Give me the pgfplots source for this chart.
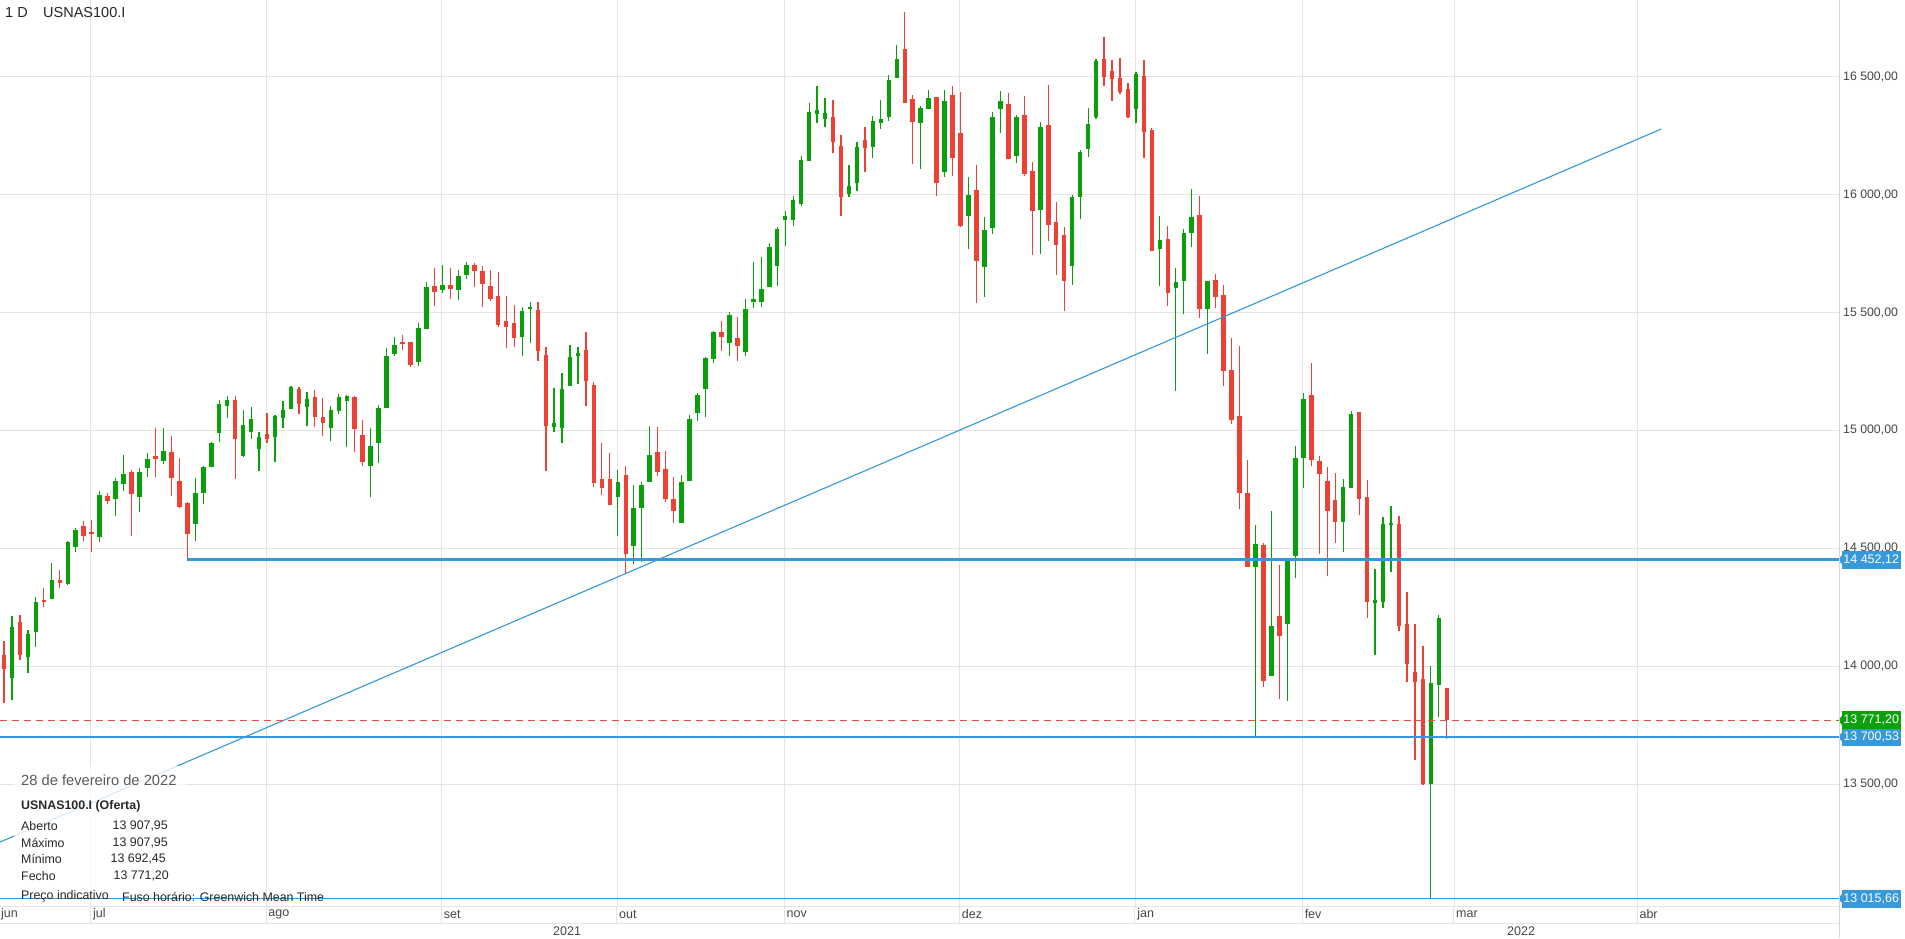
\documentclass[border=0pt]{standalone}
\usepackage{pgfplots}
\pgfplotsset{compat=1.18}
\usepackage{pgfplotstable}
\usepackage{fontspec}
\setmainfont{Liberation Sans}

\definecolor{candlegreen}{RGB}{10,160,12}
\definecolor{candlered}{RGB}{238,65,54}
\definecolor{lineblue}{RGB}{52,152,219}
\definecolor{tagblue}{RGB}{54,153,220}
\definecolor{taggreen}{RGB}{12,160,12}
\definecolor{linered}{RGB}{232,80,70}
\definecolor{gridgray}{RGB}{228,228,228}
\definecolor{axisgray}{RGB}{215,215,215}
\definecolor{textdark}{RGB}{40,40,40}
\definecolor{textgray}{RGB}{70,70,70}
\definecolor{datagray}{RGB}{90,90,90}

\newcommand{\fs}[1]{\fontsize{#1pt}{#1pt}\selectfont}

% daily candles, x = trading day (1 = 16 Jun 2021 ... 182 = 28 Feb 2022)
\pgfplotstableread{
x o h l c
2 13949 14214 13857 14165
4 14038 14154 13973 14137
5 14144 14295 14081 14271
7 14284 14437 14284 14366
9 14349 14531 14346 14526
10 14507 14585 14483 14578
13 14547 14743 14526 14726
15 14708 14800 14637 14786
16 14772 14896 14743 14815
18 14719 14842 14653 14823
19 14839 14903 14801 14879
21 14872 15009 14856 14913
25 14602 14797 14531 14734
26 14734 14851 14687 14844
27 14844 14950 14844 14946
28 14988 15129 14950 15112
29 15105 15146 15052 15129
31 14892 15087 14886 15023
32 14992 15098 14962 15049
33 14920 14992 14828 14971
35 14971 15066 14865 15061
36 15052 15125 15012 15087
37 15090 15189 15090 15183
39 15098 15162 15019 15134
42 15009 15104 14956 15087
43 15084 15155 15068 15141
44 15126 15150 14929 15148
47 14851 15009 14717 14934
48 14946 15108 14861 15094
49 15094 15348 15094 15316
50 15324 15395 15316 15362
53 15289 15454 15273 15433
54 15430 15628 15430 15607
56 15596 15702 15584 15617
58 15596 15680 15553 15655
59 15659 15713 15642 15702
66 15395 15522 15316 15507
67 15514 15543 15372 15522
70 15013 15179 14992 15033
71 15009 15242 14946 15176
72 15190 15362 15190 15310
73 15317 15353 15196 15330
78 14717 14832 14553 14783
80 14512 14769 14433 14673
81 14673 14783 14441 14769
82 14780 15019 14780 14896
86 14606 14811 14606 14780
87 14787 15066 14787 15049
88 15076 15157 15042 15150
89 15174 15310 15059 15306
90 15302 15423 15285 15416
92 15369 15501 15316 15490
94 15331 15557 15316 15514
95 15543 15716 15518 15557
96 15543 15734 15522 15600
97 15610 15793 15607 15776
98 15699 15861 15613 15854
99 15892 15931 15782 15909
100 15892 15994 15867 15977
101 15960 16164 15952 16147
102 16142 16390 16142 16349
103 16340 16460 16305 16359
104 16319 16408 16285 16345
107 16001 16126 15988 16036
108 16048 16222 16015 16200
110 16203 16333 16154 16312
111 16302 16401 16277 16321
112 16328 16507 16313 16486
113 16496 16634 16493 16575
116 16302 16376 16107 16369
117 16361 16443 16361 16411
119 16097 16443 16076 16397
122 15911 16073 15768 15998
124 15692 15904 15565 15850
125 15857 16349 15832 16328
126 16361 16441 16260 16397
128 16165 16338 16135 16328
131 15935 16306 15748 16285
135 15697 15998 15617 15989
136 15989 16189 15895 16179
137 16192 16366 16158 16299
138 16330 16573 16319 16566
143 16361 16521 16302 16511
146 15768 15909 15613 15808
148 15603 15687 15167 15631
149 15635 15853 15492 15839
150 15836 16024 15777 15907
152 15517 15632 15324 15632
158 14421 14598 13700.53 14519
160 13959 14658 13959 14169
162 14181 14461 13853 14446
163 14469 14934 14374 14885
164 14885 15158 14754 15135
169 14613 14793 14486 14762
170 14758 15084 14758 15068
173 14267 14413 14048 14281
174 14271 14632 14246 14603
175 14599 14681 14399 14609
180 13500 14003 13015.66 13928
181 13921 14218 13784 14204
}\greencandles

\pgfplotstableread{
x o h l c
1 14048 14107 13843 13987
3 14187 14218 14027 14048
6 14281 14331 14250 14271
8 14366 14408 14331 14352
11 14595 14616 14531 14554
12 14568 14620 14483 14560
14 14722 14734 14687 14702
17 14823 14832 14553 14729
20 14890 15009 14804 14878
22 14907 14977 14722 14797
23 14786 14882 14670 14677
24 14691 14695 14452.12 14560
30 15129 15146 14793 14962
34 14985 15073 14948 14964
38 15176 15186 15068 15111
40 15141 15172 15013 15056
41 15056 15136 14977 15030
45 15141 15146 14907 15005
46 14981 15044 14849 14865
51 15374 15405 15341 15367
52 15374 15377 15268 15278
55 15613 15687 15528 15586
57 15617 15687 15557 15600
60 15702 15709 15610 15676
61 15676 15697 15525 15621
62 15613 15680 15550 15557
63 15570 15670 15437 15447
64 15464 15570 15351 15437
65 15454 15532 15353 15391
68 15511 15543 15296 15338
69 15320 15353 14828 15020
74 15341 15416 15104 15211
75 15193 15207 14759 14776
76 14794 14946 14726 14755
77 14794 14903 14684 14684
79 14811 14849 14392 14476
83 14910 15016 14807 14823
84 14837 14913 14695 14710
85 14710 14801 14606 14660
91 15419 15464 15337 15398
93 15393 15480 15296 15360
105 16328 16401 16175 16222
106 16206 16253 15909 15988
109 16232 16285 16094 16196
114 16617 16773 16387 16387
115 16405 16422 16128 16306
118 16415 16415 15994 16048
120 16422 16460 16080 16154
121 16260 16434 15864 15868
123 16020 16126 15542 15720
127 16384 16429 16150 16151
129 16338 16418 16080 16087
130 16100 16137 15744 15932
132 16295 16465 15805 15871
133 15882 15970 15659 15786
134 15829 15861 15507 15634
139 16575 16667 16460 16497
140 16524 16571 16397 16489
141 16496 16578 16425 16434
142 16448 16472 16323 16328
144 16504 16571 16154 16264
145 16274 16284 15762 15762
147 15812 15867 15529 15581
151 15912 15994 15476 15514
153 15638 15665 15521 15567
154 15574 15617 15188 15252
155 15257 15390 15029 15044
156 15060 15358 14666 14737
157 14737 14875 14421 14421
159 14514 14522 13912 13936
161 14212 14431 13863 14128
165 15150 15287 14848 14875
166 14870 14893 14477 14817
167 14784 14845 14381 14658
168 14704 14820 14525 14610
171 15077 15077 14642 14709
172 14719 14790 14204 14271
176 14603 14637 14151 14172
177 14178 14314 13932 14010
178 13977 14178 13603 13935
179 13946 14088 13497 13501
182 13907.95 13907.95 13692.45 13771.20
}\redcandles

\begin{document}
\begin{tikzpicture}[lbl/.style={inner sep=0pt, text=textdark}]
\path[use as bounding box] (0,-32pt) rectangle (1905pt,906pt);
\fill[white] (0,-32pt) rectangle (1905pt,906pt);
\begin{axis}[
    scale only axis,
    width=1839pt, height=906pt,
    xmin=0.498, xmax=231.2,
    ymin=12984, ymax=16825,
    scaled x ticks=false, scaled y ticks=false,
    axis line style={draw=none},
    major tick length=0pt,
    clip mode=individual,
    xtick={11.9,33.9,55.9,77.9,98.9,120.9,142.9,163.9,182.9,205.9},
    xticklabels={jul,ago,set,out,nov,dez,jan,fev,mar,abr},
    xticklabel style={anchor=west, inner sep=0pt, xshift=2pt, yshift=-8.5pt, font=\fs{12.5}, text=textgray},
    ytick={13500,14000,14500,15000,15500,16000,16500},
    yticklabels={{13 500,00},{14 000,00},{14 500,00},{15 000,00},{15 500,00},{16 000,00},{16 500,00}},
    yticklabel pos=right,
    yticklabel style={anchor=west, inner sep=0pt, xshift=4pt, font=\fs{12.3}, text=textgray},
    grid=major,
    grid style={gridgray, line width=1pt},
    candle/.style={only marks, mark=*, mark size=0pt, mark options={draw=none, fill=none}},
]
% wicks
\addplot[candle, error bars/.cd, y dir=plus, y explicit, error mark=none,
    error bar style={draw=candlegreen, line width=1.2pt}]
    table[x=x, y=l, y error plus expr=\thisrow{h}-\thisrow{l}] {\greencandles};
\addplot[candle, error bars/.cd, y dir=plus, y explicit, error mark=none,
    error bar style={draw=candlered, line width=1.2pt}]
    table[x=x, y=l, y error plus expr=\thisrow{h}-\thisrow{l}] {\redcandles};
% bodies
\addplot[candle, error bars/.cd, y dir=plus, y explicit, error mark=none,
    error bar style={draw=candlegreen, line width=4.5pt}]
    table[x=x, y=o, y error plus expr=\thisrow{c}-\thisrow{o}] {\greencandles};
\addplot[candle, error bars/.cd, y dir=plus, y explicit, error mark=none,
    error bar style={draw=candlered, line width=4.5pt}]
    table[x=x, y=c, y error plus expr=\thisrow{o}-\thisrow{c}] {\redcandles};

% drawn levels
\addplot[lineblue, line width=1.1pt] coordinates {(0.498,13255) (208.9,16278)};
\addplot[lineblue, line width=2.5pt] coordinates {(24,14452.12) (231.2,14452.12)};
\addplot[lineblue, line width=2.5pt] coordinates {(0.498,13700.53) (231.2,13700.53)};
\addplot[lineblue, line width=1.1pt] coordinates {(0.498,13015.66) (231.2,13015.66)};
\addplot[linered, line width=1.3pt, dash pattern=on 7pt off 5pt] coordinates {(0.498,13771.2) (231.2,13771.2)};

% price tags
\foreach \v/\c in {14452.12/tagblue, 13700.53/tagblue, 13015.66/tagblue, 13771.2/taggreen}{
  \edef\temp{\noexpand\fill[\c] (axis cs:231.2,\v) ++(-1pt,0pt) -- ++(4pt,4.5pt) -- ++(0pt,-9pt) -- cycle;}\temp
}
\node[anchor=west, inner sep=0pt, xshift=2.5pt, minimum height=18pt, minimum width=59pt, fill=tagblue, text=white, font=\fs{12.5}] at (axis cs:231.2,14452.12) {14 452,12};
\node[anchor=west, inner sep=0pt, xshift=2.5pt, minimum height=18pt, minimum width=59pt, fill=tagblue, text=white, font=\fs{12.5}] at (axis cs:231.2,13700.53) {13 700,53};
\node[anchor=west, inner sep=0pt, xshift=2.5pt, minimum height=18pt, minimum width=59pt, fill=taggreen, text=white, font=\fs{12.5}] at (axis cs:231.2,13771.2) {13 771,20};
\node[anchor=west, inner sep=0pt, xshift=2.5pt, minimum height=18pt, minimum width=59pt, fill=tagblue, text=white, font=\fs{12.5}] at (axis cs:231.2,13015.66) {13 015,66};
\end{axis}

% month / year band
\draw[gridgray, line width=1pt] (0,0) -- (1839pt,0);
\draw[gridgray, line width=1pt] (0,-17pt) -- (1839pt,-17pt);
\foreach \px in {90.9,266.2,441.6,616.9,784.3,959.6,1134.9,1302.3,1453.8,1637.0}
  \draw[gridgray, line width=1pt] (\px pt,0) -- (\px pt,-17pt);
\draw[axisgray, line width=1pt] (1839pt,906pt) -- (1839pt,-32pt);
\node[lbl, anchor=west, text=textgray, font=\fs{12.5}] at (1pt,-8.5pt) {jun};
\node[lbl, anchor=west, text=textgray, font=\fs{12.5}] at (553pt,-25pt) {2021};
\node[lbl, anchor=west, text=textgray, font=\fs{12.5}] at (1507pt,-25pt) {2022};

% title
\node[lbl, anchor=west, font=\fs{14.5}] at (5pt,893pt) {1 D};
\node[lbl, anchor=west, font=\fs{14.5}] at (43pt,893pt) {USNAS100.I};

% info box
\fill[white, opacity=0.8] (14pt,13pt) rectangle (186pt,140pt);
\node[lbl, anchor=west, text=datagray, font=\fs{14.7}] at (21pt,125.3pt) {28 de fevereiro de 2022};
\node[lbl, anchor=west, font=\fs{12.4}\bfseries] at (21pt,100pt) {USNAS100.I (Oferta)};
\node[lbl, anchor=west, font=\fs{12.4}] at (21pt,80.3pt) {Aberto};
\node[lbl, anchor=west, font=\fs{12.4}] at (21pt,63.3pt) {Máximo};
\node[lbl, anchor=west, font=\fs{12.4}] at (21pt,46.7pt) {Mínimo};
\node[lbl, anchor=west, font=\fs{12.4}] at (21pt,29.7pt) {Fecho};
\node[lbl, anchor=east, font=\fs{12.4}] at (168pt,80.3pt) {13 907,95};
\node[lbl, anchor=east, font=\fs{12.4}] at (168pt,63.3pt) {13 907,95};
\node[lbl, anchor=east, font=\fs{12.4}] at (166pt,46.7pt) {13 692,45};
\node[lbl, anchor=east, font=\fs{12.4}] at (169pt,29.7pt) {13 771,20};
\node[lbl, anchor=west, font=\fs{12.4}] at (21pt,9.3pt) {Preço indicativo};
\node[lbl, anchor=west, font=\fs{12.4}] at (122pt,9.3pt) {Fuso horário: Greenwich Mean Time};
\end{tikzpicture}
\end{document}
